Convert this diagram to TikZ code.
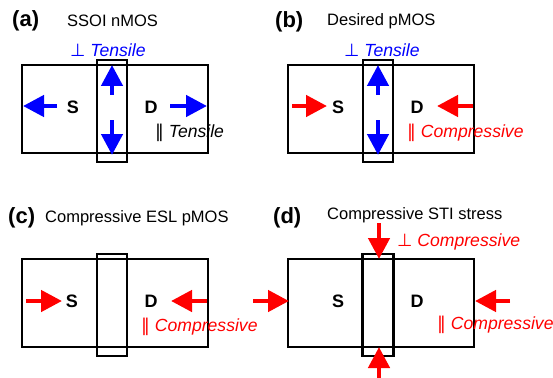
\documentclass[tikz,border=0pt]{standalone}
\usepackage{fontspec}
\setmainfont{Liberation Sans}
\newfontfamily\symfont{DejaVu Sans}
\usetikzlibrary{arrows.meta}
\definecolor{sblue}{RGB}{0,0,255}
\definecolor{sred}{RGB}{255,0,0}
\begin{document}
\begin{tikzpicture}[x=1pt,y=-1pt,
  box/.style={draw, line width=1.4pt, minimum width=186pt, minimum height=88pt, inner sep=0pt},
  gatebox/.style={draw, line width=2.6pt, minimum width=30pt, minimum height=102pt, inner sep=0pt},
  panellab/.style={font=\bfseries\fontsize{22}{24}\selectfont, inner sep=0pt, anchor=west},
  ttl/.style={font=\fontsize{16.5}{18}\selectfont, inner sep=0pt, anchor=west},
  sd/.style={font=\bfseries\fontsize{18}{20}\selectfont, inner sep=0pt},
  stress/.style={font=\itshape\fontsize{17.6}{19}\selectfont, inner sep=0pt, anchor=west},
  bigarr/.style={line width=4.5pt, -{Triangle[length=21pt,width=21pt]}},
  barr/.style={bigarr, sblue, draw=sblue, fill=sblue},
  rarr/.style={bigarr, sred, draw=sred, fill=sred}]
\useasboundingbox[fill=white] (0,0) rectangle (553,377);

% ---------------- (a)
\node[panellab] (la) at (12,21) {(a)};
\node[ttl] (ta) at (67,21) {SSOI nMOS};
\node[box] (ra) at (115,109) {};
\node[gatebox] (ga) at (112,111) {};
\node[sd] (sa) at (73,107) {S};
\node[sd] (da) at (151,107) {D};
\node[stress, text=sblue] (pa) at (70,50) {{\upshape\symfont ⊥} Tensile};
\node[stress, text=black] (qa) at (155,133) {{\upshape\symfont ‖} Tensile};
\coordinate (a1) at (57,106); \coordinate (a1t) at (23,106);
\coordinate (a2) at (170,106); \coordinate (a2t) at (207,106);
\coordinate (a3) at (112,95); \coordinate (a3t) at (112,65);
\coordinate (a4) at (112,120); \coordinate (a4t) at (112,155);
\draw[barr] (a1) -- (a1t);
\draw[barr] (a2) -- (a2t);
\draw[barr] (a3) -- (a3t);
\draw[barr] (a4) -- (a4t);

% ---------------- (b)
\node[panellab] (lb) at (275,22) {(b)};
\node[ttl] (tb) at (327,21) {Desired pMOS};
\node[box] (rb) at (381,109) {};
\node[gatebox] (gb) at (378,111) {};
\node[sd] (sb) at (338,107) {S};
\node[sd] (db) at (417,107) {D};
\node[stress, text=sblue] (pb) at (344,50) {{\upshape\symfont ⊥} Tensile};
\node[stress, text=sred] (qb) at (407,133) {{\upshape\symfont ‖} Compressive};
\coordinate (b1) at (292,106); \coordinate (b1t) at (327,106);
\coordinate (b2) at (473,106); \coordinate (b2t) at (437,106);
\coordinate (b3) at (378,95); \coordinate (b3t) at (378,65);
\coordinate (b4) at (378,120); \coordinate (b4t) at (378,155);
\draw[rarr] (b1) -- (b1t);
\draw[rarr] (b2) -- (b2t);
\draw[barr] (b3) -- (b3t);
\draw[barr] (b4) -- (b4t);

% ---------------- (c)
\node[panellab] (lc) at (8,218) {(c)};
\node[ttl] (tc) at (45,218) {Compressive ESL pMOS};
\node[box] (rc) at (115,303) {};
\node[gatebox] (gc) at (112,305) {};
\node[sd] (sc) at (72,301) {S};
\node[sd] (dc) at (151,301) {D};
\node[stress, text=sred] (qc) at (141,327) {{\upshape\symfont ‖} Compressive};
\coordinate (c1) at (26,301); \coordinate (c1t) at (62,301);
\coordinate (c2) at (207,301); \coordinate (c2t) at (171,301);
\draw[rarr] (c1) -- (c1t);
\draw[rarr] (c2) -- (c2t);

% ---------------- (d)
\node[panellab] (ld) at (273,218) {(d)};
\node[ttl] (td) at (327,215) {Compressive STI stress};
\node[box] (rd) at (381,303) {};
\node[gatebox, minimum width=31pt] (gd) at (378,305) {};
\node[sd] (sdd) at (338,301) {S};
\node[sd] (ddd) at (417,301) {D};
\node[stress, text=sred] (pd) at (397,242) {{\upshape\symfont ⊥} Compressive};
\node[stress, text=sred] (qd) at (437,325) {{\upshape\symfont ‖} Compressive};
\coordinate (d1) at (253,301); \coordinate (d1t) at (289,301);
\coordinate (d2) at (510,301); \coordinate (d2t) at (475,301);
\coordinate (d3) at (379,223); \coordinate (d3t) at (379,259);
\coordinate (d4) at (379,380); \coordinate (d4t) at (379,347);
\draw[rarr] (d1) -- (d1t);
\draw[rarr] (d2) -- (d2t);
\draw[rarr] (d3) -- (d3t);
\draw[rarr] (d4) -- (d4t);
\end{tikzpicture}
\end{document}
